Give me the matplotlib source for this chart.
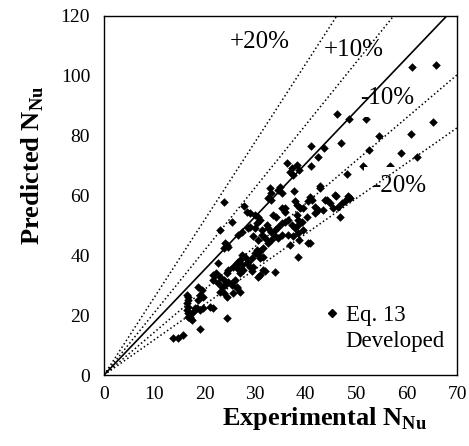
import matplotlib

matplotlib.use("Agg")
import matplotlib.pyplot as plt
from matplotlib.lines import Line2D

# experimental vs predicted Nusselt number
exp_nu = [
    61.1, 65.8, 46.3, 65.3, 60.8, 54.6, 41.0, 43.6, 46.9, 52.5, 58.9, 62.0, 42.4, 41.0, 48.2,
    48.6, 51.9, 51.4, 56.7,
    36.2, 37.2, 38.2, 36.9, 37.5, 38.7,
    32.9, 34.6, 34.9, 37.7, 42.8, 42.8, 33.2, 35.2, 32.6, 33.2,
    37.9, 38.2, 40.8, 41.2, 40.5, 43.8, 45.8, 46.0, 48.4, 46.5, 47.1, 47.8, 48.8, 44.2, 44.8,
    45.5, 43.5, 48.4, 23.7,
    46.8, 39.5, 41.8, 42.4, 40.2, 41.8, 38.2, 38.5, 35.2, 35.9, 33.6, 34.2, 35.8, 38.9,
    27.8, 28.3, 28.9, 29.9, 30.6, 30.9, 25.3,
    26.6, 27.3, 28.6, 29.9, 30.3, 28.9, 31.3,
    32.3, 32.6, 33.2, 33.9, 34.6, 35.2, 35.9, 36.5, 37.2, 37.9, 38.5, 39.2, 38.5, 39.5,
    31.3, 31.9, 32.6, 33.2, 33.9, 34.6, 35.2, 36.5, 37.5, 38.7, 40.5, 40.8, 36.9, 29.6, 30.6,
    23.0, 24.0, 24.6, 23.7, 24.3,
    30.3, 30.9, 31.6, 38.5,
    28.0, 28.6, 29.3, 29.9, 30.6, 28.9, 26.6, 26.3, 27.0, 27.6, 27.0, 27.3, 31.6, 30.9,
    30.9, 31.9, 33.9, 31.6, 29.6, 30.6, 29.3,
    22.7, 24.6, 25.6, 26.3, 27.3, 28.3,
    21.7, 22.3, 23.0, 23.7, 22.7, 23.4, 24.0, 24.6, 25.3, 26.0, 26.3, 27.0, 25.6, 23.7, 23.0,
    22.0, 21.7, 24.3, 25.3, 26.3, 24.3,
    21.0, 21.7,
    18.7, 19.4, 19.7, 18.7, 19.0,
    16.4, 16.7, 16.4, 16.7, 16.4, 16.7, 17.1, 17.4, 17.7, 18.4, 19.0, 19.7, 16.7, 16.7, 17.1, 18.0,
    24.3, 19.0, 13.7, 14.7, 15.7,
]
pred_nu = [
    103.1, 103.7, 87.3, 84.5, 80.6, 80.0, 76.4, 75.8, 77.5, 75.3, 74.1, 72.8, 73.0, 70.0, 67.2,
    85.5, 85.5, 70.0, 70.0,
    70.8, 69.1, 70.2, 68.0, 66.9, 68.6,
    62.4, 61.9, 63.0, 61.5, 62.4, 63.2, 60.7, 60.7, 59.1, 58.5,
    58.0, 56.9, 59.6, 58.5, 58.2, 58.5, 60.2, 60.0, 59.9, 56.3, 57.4, 58.0, 59.3, 58.5, 57.4,
    55.7, 55.2, 59.1, 57.8,
    52.7, 55.7, 56.3, 55.2, 52.7, 54.0, 53.5, 51.8, 55.7, 54.6, 53.5, 52.9, 55.7, 55.7,
    56.6, 54.6, 54.1, 53.5, 52.9, 51.8, 51.3,
    46.8, 47.9, 49.0, 49.0, 50.7, 49.6, 48.5,
    50.2, 49.0, 47.9, 48.5, 49.6, 50.7, 51.3, 51.8, 50.2, 49.0, 50.2, 51.3, 47.4, 48.5,
    46.8, 45.7, 44.0, 45.2, 46.3, 45.7, 46.8, 46.8, 46.3, 45.2, 44.0, 44.0, 43.5, 46.3, 45.2,
    48.5, 44.0, 42.9, 42.4, 43.5,
    41.8, 41.3, 42.4, 39.4,
    39.6, 37.9, 39.0, 40.7, 40.1, 36.2, 37.9, 35.7, 34.0, 35.1, 38.5, 40.1, 39.6, 39.0,
    33.4, 34.8, 34.3, 35.1, 36.2, 32.9, 34.6,
    37.3, 35.1, 36.2, 37.3, 36.8, 37.3,
    33.4, 34.0, 32.9, 31.8, 30.7, 29.5, 30.1, 31.2, 30.7, 31.8, 29.5, 27.9, 27.3, 27.3, 27.9,
    33.4, 31.8, 34.0, 30.1, 29.0, 26.2,
    22.8, 22.3,
    29.5, 28.4, 26.2, 25.1, 26.8,
    26.8, 25.1, 24.0, 22.8, 21.7, 20.6, 19.5, 18.4, 21.2, 22.3, 21.7, 22.3, 26.2, 19.5, 19.0, 22.3,
    19.0, 15.4, 12.3, 12.3, 13.4,
]

# reference lines through the origin
line_slopes = [2.60, 2.09, 1.766, 1.433, 1.18]
line_styles = [":", ":", "-", ":", ":"]

band_labels = ["+20%", "+10%", "-10%", "-20%"]
band_label_x = [30.9, 49.6, 56.1, 58.5]
band_label_y = [111.4, 108.7, 92.5, 63.2]

x_ticks = [0, 10, 20, 30, 40, 50, 60, 70]
y_ticks = [0, 20, 40, 60, 80, 100, 120]

plt.rcParams["font.family"] = ["Liberation Serif", "DejaVu Serif"]
plt.rcParams["mathtext.fontset"] = "custom"
plt.rcParams["mathtext.rm"] = "Liberation Serif"
plt.rcParams["mathtext.bf"] = "Liberation Serif:bold"

fig = plt.figure(figsize=(4.69, 4.46), dpi=100)
ax = fig.add_axes([104 / 469, 71 / 446, 353 / 469, 359 / 446])

ax.scatter(exp_nu, pred_nu, marker="D", s=19, color="black", linewidths=0, zorder=2)

for slope, style in zip(line_slopes, line_styles):
    x_end = min(70, 120 / slope)
    ax.plot([0, x_end], [0, slope * x_end], color="black", linestyle=style,
            linewidth=1.2 if style == "-" else 1.1, zorder=4)

for label, lx, ly in zip(band_labels, band_label_x, band_label_y):
    ax.text(lx, ly, label, fontsize=18, ha="center", va="center", zorder=3,
            bbox=dict(boxstyle="square,pad=0.3", facecolor="white", edgecolor="none"))

handles = [
    Line2D([], [], marker="D", markersize=4.4, color="black", linestyle="none"),
    Line2D([], [], linestyle="none"),
]
ax.legend(handles, ["Eq. 13", "Developed"], loc="upper left", bbox_to_anchor=(0.62, 0.195),
          frameon=False, fontsize=16.5, handlelength=0.8, handletextpad=0.2,
          borderpad=0, borderaxespad=0, labelspacing=0.2)

ax.set_xlim(0, 70)
ax.set_ylim(0, 120)
ax.set_xticks(x_ticks)
ax.set_yticks(y_ticks)
ax.tick_params(axis="both", length=0, labelsize=14)
ax.tick_params(axis="x", pad=8)
ax.tick_params(axis="y", pad=10)
for spine in ax.spines.values():
    spine.set_linewidth(1.0)

fig.text(324 / 469, 1 - 425 / 446, r"Experimental N$_{\mathbf{Nu}}$", fontsize=19,
         fontweight="bold", ha="center", va="baseline")
fig.text(33 / 469, 1 - 165 / 446, r"Predicted N$_{\mathbf{Nu}}$", fontsize=19,
         fontweight="bold", ha="center", va="center", rotation=90)

fig.savefig("out.png", dpi=100)
